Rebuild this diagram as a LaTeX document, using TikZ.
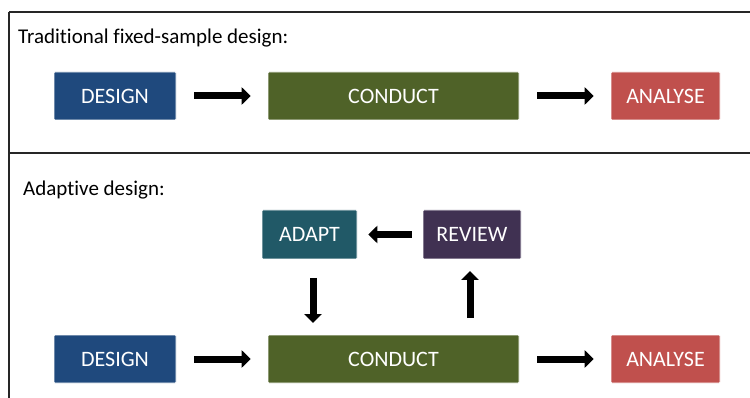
\documentclass[tikz,border=0pt]{standalone}
\usepackage{fontspec}
\setmainfont{Carlito}[Ligatures={NoCommon,NoRare}]
\usetikzlibrary{arrows.meta}
\definecolor{cdesign}{HTML}{1F497D}
\definecolor{cconduct}{HTML}{4F6228}
\definecolor{canalyse}{HTML}{C0504D}
\definecolor{cadapt}{HTML}{215967}
\definecolor{creview}{HTML}{403152}
\begin{document}
\begin{tikzpicture}[x=1pt,y=-1pt,
  blk/.style={draw=white,line width=0.6pt,rounded corners=1pt,inner sep=0pt,text=white,font=\fontsize{22}{24}\selectfont},
  fat/.style={line width=7pt,-{Triangle[length=9pt,width=17pt]}},
  frame/.style={draw=black!85,line width=1.8pt},
  head/.style={anchor=west,inner sep=0pt,font=\fontsize{21}{24}\selectfont}]
\useasboundingbox (0,0) rectangle (750,398);
\clip (0,0) rectangle (750,398);
\draw[frame] (9,12) -- (760,12);
\draw[frame] (9,12) -- (9,410);
\draw[frame] (9,153) -- (760,153);
\node[head] (t1) at (18,38) {Traditional fixed-sample design:};
\node[head] (t2) at (23,190) {Adaptive design:};
% top row
\node[blk,fill=cdesign,minimum width=122pt,minimum height=48pt] (d1) at (115,96) {DESIGN};
\node[blk,fill=cconduct,minimum width=251pt,minimum height=48pt] (c1) at (393.5,96) {CONDUCT};
\node[blk,fill=canalyse,minimum width=109pt,minimum height=48pt] (a1) at (665.5,96) {ANALYSE};
\draw[fat] ([xshift=18pt]d1.east) -- ([xshift=-17pt]c1.west);
\draw[fat] ([xshift=18pt]c1.east) -- ([xshift=-17pt]a1.west);
% bottom
\node[blk,fill=cdesign,minimum width=122pt,minimum height=48pt] (d2) at (115,359) {DESIGN};
\node[blk,fill=cconduct,minimum width=251pt,minimum height=48pt] (c2) at (393.5,359) {CONDUCT};
\node[blk,fill=canalyse,minimum width=109pt,minimum height=48pt] (a2) at (665.5,359) {ANALYSE};
\node[blk,fill=cadapt,minimum width=95pt,minimum height=49pt] (ad) at (309.5,234.5) {ADAPT};
\node[blk,fill=creview,minimum width=98pt,minimum height=49pt] (rv) at (472,234.5) {REVIEW};
\draw[fat] ([xshift=18pt]d2.east) -- ([xshift=-17pt]c2.west);
\draw[fat] ([xshift=18pt]c2.east) -- ([xshift=-17pt]a2.west);
\draw[fat] ([xshift=-11pt]rv.west) -- ([xshift=11pt]ad.east);
\coordinate (dtop) at (313,278);
\coordinate (dbot) at (313,323);
\draw[fat] (dtop) -- (dbot);
\coordinate (ubot) at (470,318);
\coordinate (utop) at (470,271);
\draw[fat] (ubot) -- (utop);
\end{tikzpicture}
\end{document}
